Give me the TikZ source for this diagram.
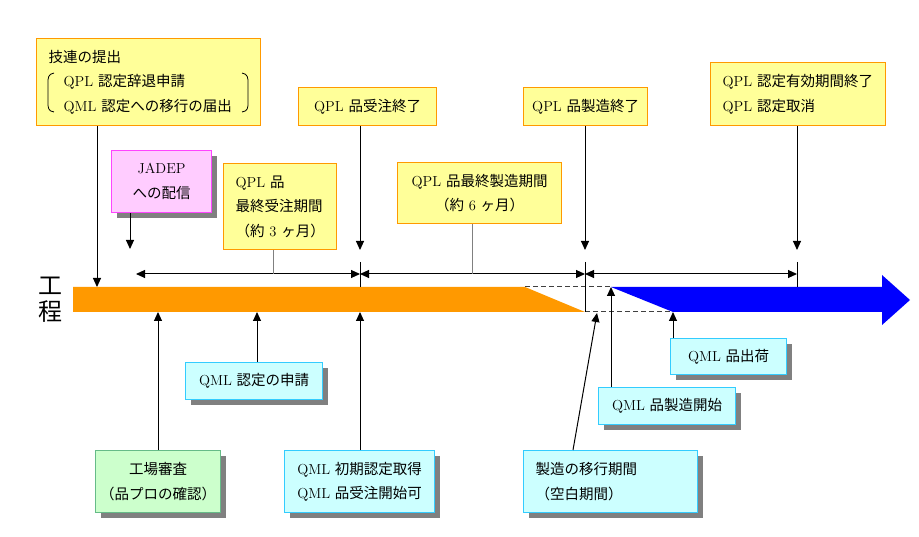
\documentclass[tikz,border=0pt]{standalone}
\usepackage{fontspec}
\newfontfamily\cjk{Noto Sans CJK JP}
\newcommand{\jp}[1]{{\cjk #1}}
\usetikzlibrary{arrows.meta,shadows}
\definecolor{yfill}{HTML}{FFFF99}
\definecolor{ybord}{HTML}{FF9900}
\definecolor{pfill}{HTML}{FFCCFF}
\definecolor{pbord}{HTML}{FF44FF}
\definecolor{cfill}{HTML}{CCFFFF}
\definecolor{cbord}{HTML}{33CCFF}
\definecolor{gfill}{HTML}{CCFFCC}
\definecolor{gbord}{HTML}{66BB88}
\definecolor{barorange}{HTML}{FF9900}
\definecolor{barblue}{HTML}{0000FF}
\definecolor{shadowgray}{HTML}{808080}
\definecolor{dashgray}{HTML}{404040}
\begin{document}
\begin{tikzpicture}[x=1pt,y=-1pt,
  bx/.style={draw, line width=1.2pt, inner sep=0pt, anchor=north west, align=center,
    font=\fontsize{14.5}{24.5}\selectfont},
  sz/.style 2 args={minimum width=#1pt, minimum height=#2pt},
  shd/.style={drop shadow={shadow xshift=5pt, shadow yshift=-5pt, fill=shadowgray, opacity=1}},
  yb/.style={bx, fill=yfill, draw=ybord},
  pb/.style={bx, fill=pfill, draw=pbord, shd},
  cb/.style={bx, fill=cfill, draw=cbord, shd},
  gb/.style={bx, fill=gfill, draw=gbord, shd},
  arr/.style={-{Triangle[length=9pt,width=8pt]}, line width=1pt},
  dimline/.style={{Triangle[length=9pt,width=8pt]}-{Triangle[length=9pt,width=8pt]}, line width=1pt},
  tickline/.style={line width=0.8pt},
  gline/.style={line width=1pt, draw=shadowgray},
  dline/.style={dashed, dash pattern=on 5pt off 3pt, line width=1pt, draw=dashgray},
  brk/.style={line width=0.8pt}
]
\useasboundingbox (0,0) rectangle (919,537);

% bar
\fill[barorange] (73,287) -- (525,287) -- (585,312) -- (73,312) -- cycle;
\fill[barblue] (611,287) -- (882,287) -- (882,275) -- (910,300) -- (882,325) -- (882,312) -- (673,312) -- cycle;
\draw[dline] (525,287) -- (611,287);
\draw[dline] (585,312) -- (673,312);

\node[font=\fontsize{24}{26}\selectfont, align=center, inner sep=0pt] (lbl) at (50,300) {\jp{工}\\\jp{程}};

% upper boxes
\node[yb, sz={224}{87}, align=left, inner xsep=12pt, text width=200pt] (tl) at (36,38)
  {\jp{技連の提出}\\\hspace*{15pt}QPL \jp{認定辞退申請}\\\hspace*{15pt}QML \jp{認定への移行の届出}};
\draw[brk] (54,73) .. controls (48,74) and (48,78) .. (48,83) -- (48,102) .. controls (48,108) and (48,111) .. (54,112);
\draw[brk] (242,73) .. controls (248,74) and (248,78) .. (248,83) -- (248,102) .. controls (248,108) and (248,111) .. (242,112);

\node[pb, sz={100}{62}] (jadep) at (111,150) {JADEP\\\jp{への配信}};
\node[yb, sz={113}{86}, align=left, inner xsep=12pt, text width=89pt] (q1) at (223,163)
  {QPL \jp{品}\\\jp{最終受注期間}\\\mbox{\jp{（約}~3~\jp{ヶ月）}}};
\node[yb, sz={138}{38}] (qa) at (298,87) {QPL \jp{品受注終了}};
\node[yb, sz={124}{38}] (qb) at (523,87) {QPL \jp{品製造終了}};
\node[yb, sz={175}{63}, align=left, inner xsep=12pt, text width=151pt] (qc) at (710,62)
  {QPL \jp{認定有効期間終了}\\QPL \jp{認定取消}};
\node[yb, sz={164}{61}] (qd) at (397,162) {QPL \jp{品最終製造期間}\\\jp{（約}~6~\jp{ヶ月）}};

% lower boxes
\node[cb, sz={137}{37}] (ca) at (185,362) {QML \jp{認定の申請}};
\node[gb, sz={125}{62}] (ga) at (95,450) {\jp{工場審査}\\\jp{（品プロの確認）}};
\node[cb, sz={150}{62}] (cq) at (284,450) {QML \jp{初期認定取得}\\QML \jp{品受注開始可}};
\node[cb, sz={174}{62}, align=left, inner xsep=12pt, text width=150pt] (cc) at (523,450)
  {\jp{製造の移行期間}\\\jp{（空白期間）}};
\node[cb, sz={137}{37}] (cd) at (598,387) {QML \jp{品製造開始}};
\node[cb, sz={116}{36}] (ce) at (670,338) {QML \jp{品出荷}};

% top arrows
\coordinate (t1) at (97,287);
\coordinate (t2) at (130,249);
\coordinate (t3) at (360,250);
\coordinate (t4) at (585,250);
\coordinate (t5) at (797,250);
\draw[arr] (tl.south -| t1) -- (t1);
\draw[arr] (jadep.south -| t2) -- (t2);
\draw[arr] (qa.south -| t3) -- (t3);
\draw[arr] (qb.south -| t4) -- (t4);
\draw[arr] (qc.south -| t5) -- (t5);

% dimension line
\coordinate (d0) at (136,274);
\coordinate (d1) at (360,274);
\coordinate (d2) at (585,274);
\coordinate (d3) at (797,274);
\draw[dimline] (d0) -- (d1);
\draw[dimline] (d1) -- (d2);
\draw[dimline] (d2) -- (d3);
\coordinate (k1a) at (360,262); \coordinate (k1b) at (360,287);
\coordinate (k2a) at (585,262); \coordinate (k2b) at (585,312);
\coordinate (k3a) at (797,262); \coordinate (k3b) at (797,287);
\draw[tickline] (k1a) -- (k1b);
\draw[tickline] (k2a) -- (k2b);
\draw[tickline] (k3a) -- (k3b);
\coordinate (g1) at (273,274);
\coordinate (g2) at (472,274);
\draw[gline] (q1.south -| g1) -- (g1);
\draw[gline] (qd.south -| g2) -- (g2);

% bottom arrows
\coordinate (b1) at (158,312);
\coordinate (b2) at (257,312);
\coordinate (b3) at (360,312);
\coordinate (b4s) at (573,450);
\coordinate (b4) at (597,313);
\coordinate (b5) at (611,287);
\coordinate (b6) at (673,312);
\draw[arr] (ga.north -| b1) -- (b1);
\draw[arr] (ca.north -| b2) -- (b2);
\draw[arr] (cq.north -| b3) -- (b3);
\draw[arr] (cc.north -| b4s) -- (b4);
\draw[arr] (cd.north -| b5) -- (b5);
\draw[arr] (ce.north -| b6) -- (b6);
\end{tikzpicture}
\end{document}
